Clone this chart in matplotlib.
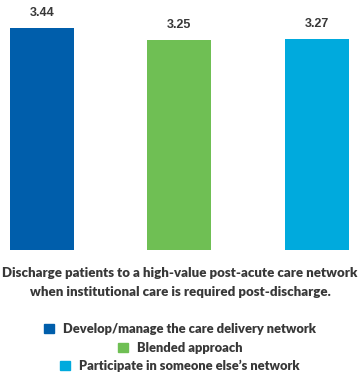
import matplotlib
matplotlib.use("Agg")
import matplotlib.pyplot as plt
from matplotlib.patches import Patch

# data
categories = ["Develop/manage the care delivery network", "Blended approach",
              "Participate in someone else\u2019s network"]
values = [3.44, 3.25, 3.27]
value_labels = ["3.44", "3.25", "3.27"]
colors = ["#005EAB", "#6FBF54", "#00AADD"]
caption = ["Discharge patients to a high-value post-acute care network",
           "when institutional care is required post-discharge."]

text_color = "#383838"

fig = plt.figure(figsize=(3.6, 3.76), dpi=100)
ax = fig.add_axes([0, 0.335, 1, 0.665])

x = list(range(len(values)))
ax.bar(x, values, width=0.465, color=colors)
for xi, v, lab in zip(x, values, value_labels):
    ax.text(xi, v + 0.23, lab, ha="center", va="center", fontsize=9,
            fontweight="bold", color=text_color, family="Liberation Sans")

ax.set_xlim(-0.305, 2.313)
ax.set_ylim(0, 3.87)
ax.axis("off")

# caption under the bars
for yy, line in zip([0.274, 0.223], caption):
    fig.text(0.5, yy, line, ha="center", va="center", fontsize=9.5,
             fontweight="heavy", color=text_color, family="Lato")

# one centered legend per line
for yy, lab, c in zip([0.125, 0.074, 0.027], categories, colors):
    leg = fig.legend(handles=[Patch(color=c, label=lab)], loc="center",
                     bbox_to_anchor=(0.5, yy), frameon=False,
                     handlelength=0.75, handleheight=0.75, handletextpad=0.7,
                     borderpad=0, borderaxespad=0,
                     prop={"family": "Lato", "weight": "heavy", "size": 9.3})
    for t in leg.get_texts():
        t.set_color(text_color)

fig.savefig("out.png", dpi=100)
